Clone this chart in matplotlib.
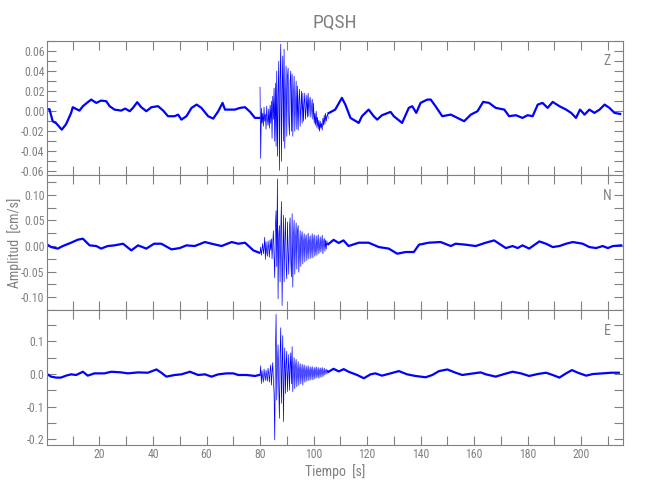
import numpy as np
import matplotlib
matplotlib.use("Agg")
import matplotlib.pyplot as plt
from matplotlib.ticker import MultipleLocator, FormatStrFormatter

plt.rcParams['font.family'] = ['DejaVu Sans Condensed', 'Liberation Sans Narrow',
                               'Roboto Condensed', 'DejaVu Sans']
plt.rcParams['font.stretch'] = 'condensed'
plt.rcParams['axes.unicode_minus'] = False

GREY = '#808080'
BLUE = '#0000ff'

station = 'PQSH'
components = ['Z', 'N', 'E']

# quiet part of each trace, values in units of 0.001 cm/s
z_pre_t = [0, 1.3, 2.5, 3.8, 5.9, 7.5, 9.4, 10, 12.5, 13.8, 15.6, 16.9, 18.8, 20.6, 22.5, 23.8,
           25.6, 28.1, 29.6, 31.3, 32.5, 34.1, 35.6, 37.5, 39.4, 41.9, 43.8, 45.6, 48.1, 49.4,
           50.6, 52.5, 54.4, 56.3, 58.1, 60.6, 62.5, 64.4, 66, 66.9, 68.8, 70.6, 72.5, 74.4,
           76.3, 78.1, 79.7]
z_pre_v = [1.6, 2, -10, -12, -18.4, -13, -1.7, 4, 0.6, 5, 9, 11.6, 8.3, 10.6, 10, 5,
           1.6, 0.6, 2.6, 0, 3.3, 9, 4, 0, 4, 5, 0.6, -5, -5, -3.4,
           -8.4, -5, 3.3, 6.6, 3.3, -5, -7.4, 0, 8.3, 1.6, 1.6, 1.6, 3.3, 4,
           -0.7, -6.7, -6.7]
z_post_t = [105.6, 108.1, 110.6, 111.9, 113.8, 116.9, 118.1, 120.6, 122.5, 123.8, 125.6, 128.8,
            130, 133.1, 135.6, 136.9, 138.4, 140, 142.5, 143.8, 145.6, 148.1, 151.3, 153.8,
            156.3, 158.8, 161.3, 163.4, 165.6, 168.1, 171.3, 173.1, 175.6, 178.1, 180, 181.9,
            183.8, 185.6, 187.5, 189.4, 191.9, 194.4, 196.3, 198.1, 199.6, 201.3, 203.1, 205,
            206.9, 208.8, 210.6, 212.5, 214.6]
z_post_v = [-2, 1.6, 13.3, 6.6, -6.7, -11.7, -5, 1.6, -5, -8.4, -4, -0.7,
            -5, -11.7, 3.3, 5, -1.7, 8.3, 11.6, 11.6, 5, -5, -3.4, -6.7,
            -10, -3.4, 0, 9.3, 8.3, 3.3, 1.6, -5, -4, -6.7, -4, -5,
            6.6, 8.3, 3.3, 9.3, 5, 1.6, -1.7, -6.7, 1.6, -3.4, 1.6, -1.7,
            1.6, 6.6, 3.3, -1.7, -2.7]

n_pre_t = [0, 1.9, 4.4, 6.3, 9.4, 11.9, 13.8, 16.3, 18.8, 20.6, 23.1, 25.6, 28.8, 31.9, 34.4,
           37.5, 40.4, 43.1, 46.9, 50, 52.5, 55.6, 59.4, 61.9, 65.6, 69.4, 71.9, 74.4, 77.5, 79.7]
n_pre_v = [4.5, -2, -5, 0, 6.5, 12.4, 14.3, 1.3, 0, -5, 0, 1.3, 4.5, -8.5, 1.3,
           -5, 4.5, 4.5, -6.5, -4, 1.3, 0, 7.8, 4.5, 0, 7.8, 4.5, 6.5, -8.5, -13]
n_post_t = [105.6, 107.5, 109.4, 111.2, 113.1, 116.9, 120.6, 124.4, 128.1, 131.3, 134.4, 137.5,
            139.4, 143.1, 147.5, 151.3, 153.1, 156.9, 160.6, 164.4, 167.5, 169.4, 171.9, 174.4,
            176.3, 178.1, 180.6, 184.4, 186.9, 189.4, 191.9, 194.4, 196.9, 200.6, 203.1, 205.6,
            208.1, 210, 211.9, 215]
n_post_v = [4, 12, 6, 11, 0, 6.5, 6.5, -2, -5, -15, -11.7, -11.7,
            2.6, 6.5, 7.8, 0, 4.5, 2.6, 0, 6.5, 11, 4.5, -4, 0,
            -4, 1.3, -5, 9, 4.5, -2, 0, 4.5, 7.8, 4.5, -2, -4,
            0, -4, 0, 1.3]

e_pre_t = [0, 1.9, 3.8, 5.6, 7.5, 9.4, 11.3, 13.8, 15.6, 18.1, 21.9, 24.4, 28.1, 30.6, 34.4,
           38.1, 41.3, 43.1, 45, 48.1, 50.6, 53.8, 56.9, 59.4, 61.9, 64.4, 67.5, 70, 71.9, 75,
           78.1, 79.7]
e_pre_v = [2, -8, -11, -11, -5, -1, -3, 7, -5, 2, 2, 7, 5, 2, 5,
           4, 14, 4, -8, -3, -1, 7, -3, -1, -8, -1, 2, 2, -3, -3,
           -6, -3]
e_post_t = [105.6, 107.5, 109.4, 111.3, 113.1, 116.3, 118.8, 121.3, 123.1, 125.6, 128.8, 131.9,
            135, 138.1, 141.9, 144.4, 146.9, 150, 153.1, 155.6, 158.1, 162.5, 164.4, 168.1,
            171.3, 174.4, 177.5, 180.6, 183.8, 186.9, 189.4, 191.9, 194.4, 196.6, 198.8, 201.9,
            204.4, 208.1, 211.3, 214.1]
e_post_v = [7, 16, 8, 15, 7, -3, -13, -1, 2, -5, 2, 9,
            -1, -6, -10, -3, 9, 14, 4, -3, 0, 5, -1, -8,
            0, 7, 2, -6, 0, 4, -3, -11, 2, 12, 4, -5,
            0, 2, 4, 4]

# strong-motion part, one sample every 0.25 s from 80 s
burst_t0 = 80.0
burst_dt = 0.25
z_burst = [24, -47, 3, -12, -2, -15, 4, -10,
           -3, -18, 5, -8, -14, 2, -17, 6,
           -12, 10, -27, 15, -8, 23, -30, 28,
           -35, 40, -45, 18, 50, -59, 30, 67,
           -50, 20, 55, -30, 62, -37, 10, 45,
           -25, 35, 43, -10, -24, 30, 40, -20,
           37, -25, 15, 35, -20, 5, 30, -18,
           25, -19, 10, 22, -15, 5, 20, -12,
           18, -10, 8, 18, -8, 3, 16, -6,
           18, -5, 10, 14, -6, 4, 12, -8,
           8, -12, -2, -14, 0, -16, -6, -18,
           -9, -20, -10, -17, -12, -19, -7, -14,
           -4, -13, -2, -10, -5, -3, -7]
n_burst = [-13, -2, -18, -6, 5, -15, -4, 17,
           -26, 8, -12, -20, 10, -5, -22, 12,
           -8, 14, -25, 5, 30, -20, -62, 40,
           69, -40, 131, -103, 20, 40, -70, 30,
           87, -116, -20, 60, -70, 10, 55, -40,
           -64, 47, -10, -55, 35, 55, -30, -60,
           63, -80, 20, 50, -55, 10, 45, -45,
           30, 40, -51, -10, 30, -40, 15, 28,
           -35, 5, 24, -31, 10, 22, -28, -5,
           25, -25, 8, 20, -24, 0, 24, -23,
           10, 22, -20, -5, 20, -18, 5, 22,
           -15, 0, 18, -12, 5, 21, -15, 8,
           15, -10, 12, -6, 10, 2, 4]
e_burst = [-3, 25, -29, 10, -12, -25, 15, -5,
           -20, 12, -8, -22, 18, 0, -25, 10,
           28, -34, 5, 35, -20, -60, -202, 60,
           183, -80, 30, 90, -40, -136, 60, 142,
           -90, 20, 118, -146, 0, 80, -60, 30,
           70, -54, 10, 60, -50, 20, 65, -30,
           84, -54, 10, 50, -45, 20, 45, -39,
           5, 38, -35, 10, 32, -30, 5, 30,
           -34, 10, 28, -25, 5, 25, -22, 8,
           25, -20, 5, 22, -18, 10, 23, -18,
           5, 20, -15, 10, 22, -12, 5, 20,
           -13, 8, 19, -10, 10, 20, -8, 5,
           18, -3, 10, 15, 0, 12, 7]

traces = {
    'Z': (z_pre_t, z_pre_v, z_burst, z_post_t, z_post_v),
    'N': (n_pre_t, n_pre_v, n_burst, n_post_t, n_post_v),
    'E': (e_pre_t, e_pre_v, e_burst, e_post_t, e_post_v),
}
ylims = {'Z': (-0.064, 0.0706), 'N': (-0.125, 0.138), 'E': (-0.218, 0.196)}
ysteps = {'Z': (0.02, 0.01, '%.2f'), 'N': (0.05, 0.025, '%.2f'), 'E': (0.1, 0.05, '%.1f')}

fig = plt.figure(figsize=(6.5, 5), dpi=100)
left, width = 0.0728, 0.8862
height = 0.2696
bottoms = [0.6494, 0.3798, 0.11]

for comp, bot in zip(components, bottoms):
    ax = fig.add_axes([left, bot, width, height])
    pre_t, pre_v, burst, post_t, post_v = traces[comp]
    bt = burst_t0 + burst_dt * np.arange(len(burst))
    ax.plot(pre_t, np.array(pre_v) / 1000, color=BLUE, lw=1.6)
    ax.plot(bt, np.array(burst) / 1000, color=BLUE, lw=0.5)
    ax.plot(post_t, np.array(post_v) / 1000, color=BLUE, lw=1.6)

    ax.set_xlim(0.5, 215.8)
    ax.set_ylim(*ylims[comp])
    major, minor, fmt = ysteps[comp]
    ax.yaxis.set_major_locator(MultipleLocator(major))
    ax.yaxis.set_minor_locator(MultipleLocator(minor))
    ax.yaxis.set_major_formatter(FormatStrFormatter(fmt))
    ax.xaxis.set_major_locator(MultipleLocator(20))
    ax.xaxis.set_minor_locator(MultipleLocator(10))
    ax.tick_params(which='both', direction='in', top=True, right=True, length=6.5,
                   width=0.8, color=GREY, labelcolor=GREY, labelsize=8.5, pad=2)
    for sp in ax.spines.values():
        sp.set_color(GREY)
        sp.set_linewidth(0.8)
    if comp != 'E':
        ax.tick_params(labelbottom=False)
    else:
        ax.set_xlabel('Tiempo  [s]', color=GREY, fontsize=10, labelpad=2)
    ax.text(0.972, 0.845, comp, transform=ax.transAxes, color=GREY, fontsize=10,
            ha='center', va='center')

fig.text(0.022, 0.515, 'Amplitud  [cm/s]', color=GREY, fontsize=10, rotation=90,
         ha='center', va='center')
fig.text(0.515, 0.955, station, color=GREY, fontsize=14, ha='center', va='center')

fig.savefig('out.png', dpi=100)
